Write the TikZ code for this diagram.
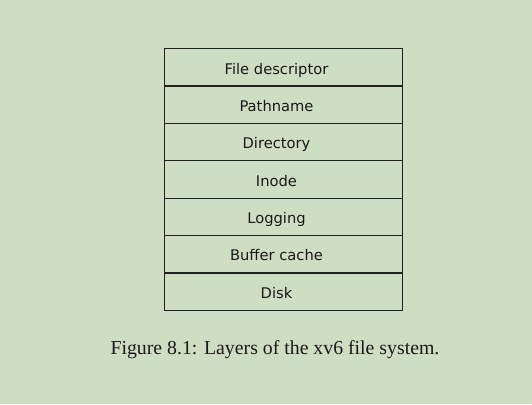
\documentclass[tikz,border=0pt]{standalone}
\usepackage{fontspec}
\setmainfont{Liberation Serif}
\newfontfamily\boxfont{DejaVu Sans}
\definecolor{bg}{HTML}{CEDEC3}
\definecolor{edge}{HTML}{222222}
\begin{document}
\begin{tikzpicture}[x=1pt,y=-1pt,
  layer/.style={minimum width=237.6pt, minimum height=37.37pt, inner sep=0pt, outer sep=0pt},
  layertext/.style={font=\boxfont\fontsize{14.7}{16}\selectfont, text=black!90, inner sep=0pt, anchor=base},
  rule/.style={draw=edge, line width=1.2pt},
  caption/.style={font=\fontsize{19.8}{22}\selectfont, text=black!90, inner sep=0pt}]
\fill[bg] (0,0) rectangle (532,404);
\useasboundingbox (0,0) rectangle (532,404);
\foreach \t [count=\i] in {File descriptor,Pathname,Directory,Inode,Logging,Buffer cache,Disk}{
  \node[layer] (r\i) at (283.5,{48.7+37.37*(\i-0.5)}) {};
  \node[layertext] (t\i) at ([xshift=-7pt,yshift=-25.4pt]r\i.north) {\t};
}
\draw[rule] (r1.north west) rectangle (r7.south east);
\foreach \i in {1,...,6}{
  \draw[rule] (r\i.south west) -- (r\i.south east);
}
\node[caption, anchor=base] (cap) at (275,354) {Figure 8.1: Layers of the xv6 file system.};
\end{tikzpicture}
\end{document}
